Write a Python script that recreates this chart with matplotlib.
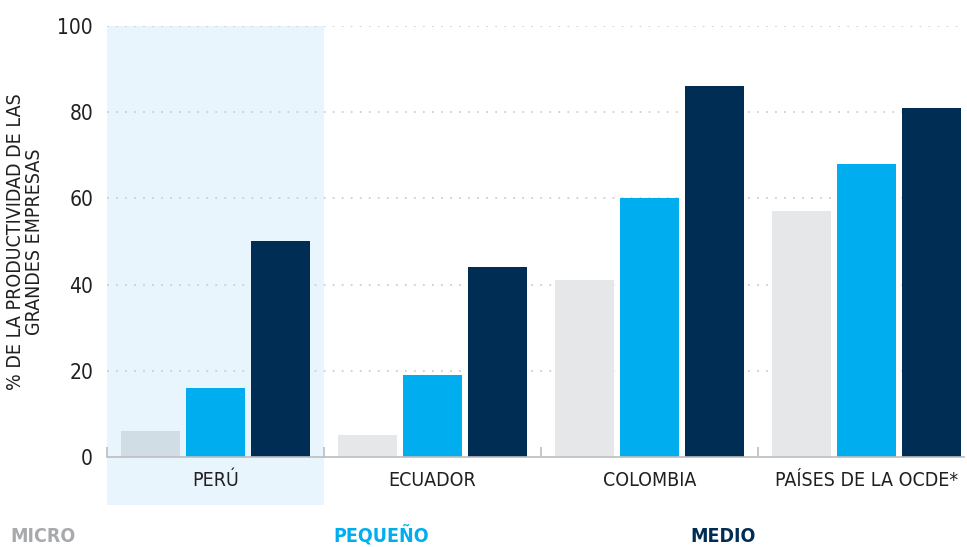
import matplotlib.pyplot as plt
from matplotlib.patches import Rectangle
import numpy as np

plt.rcParams['font.family'] = ['DejaVu Sans']
plt.rcParams['font.stretch'] = 'condensed'

paises = ['PERÚ', 'ECUADOR', 'COLOMBIA', 'PAÍSES DE LA OCDE*']
series = ['MICRO', 'PEQUEÑO', 'MEDIO']
micro = [6, 5, 41, 57]
pequeno = [16, 19, 60, 68]
medio = [50, 44, 86, 81]

GRIS = '#e6e7e8'
GRIS_BANDA = '#d0dde5'
AZUL = '#00aeef'
OSCURO = '#002d54'
BANDA = '#e8f5fc'

fig = plt.figure(figsize=(9.67, 5.47), dpi=100)
ax = fig.add_axes([107 / 967, 90 / 547, (964 - 107) / 967, (457 - 26) / 547])

x = np.arange(len(paises))
w = 0.272
off = 0.3

# banda de Peru
ax.add_patch(Rectangle((-0.5, -11.1), 1.0, 111.1, facecolor=BANDA,
                       edgecolor='none', clip_on=False, zorder=0))

col_micro = [GRIS_BANDA] + [GRIS] * (len(paises) - 1)
ax.bar(x - off, micro, w, color=col_micro, zorder=2)
ax.bar(x, pequeno, w, color=AZUL, zorder=2)
ax.bar(x + off, medio, w, color=OSCURO, zorder=2)

ax.set_xlim(-0.5, 3.45)
ax.set_ylim(0, 100)
ax.set_yticks([0, 20, 40, 60, 80, 100])
ax.yaxis.grid(True, linestyle=(0, (1, 4)), color='#cfcfcf', linewidth=1.3, zorder=1)
ax.set_axisbelow(True)

for s in ['top', 'right', 'left']:
    ax.spines[s].set_visible(False)
ax.spines['bottom'].set_color('#bcbec0')
ax.spines['bottom'].set_linewidth(1.2)

ax.set_xticks(x)
ax.set_xticklabels(paises, fontsize=14, color='#231f20')
ax.tick_params(axis='x', length=0, pad=10)
ax.set_xticks([-0.5, 0.5, 1.5, 2.5], minor=True)
ax.tick_params(axis='x', which='minor', direction='in', length=7, color='#bcbec0', width=1.2)
ax.tick_params(axis='y', length=0, pad=10, labelsize=15, labelcolor='#231f20')

ax.set_ylabel('% DE LA PRODUCTIVIDAD DE LAS\nGRANDES EMPRESAS', fontsize=14,
              color='#231f20', linespacing=1.0, labelpad=10)

# leyenda
fig.text(10 / 967, 1 - 536 / 547, 'MICRO', fontsize=14, fontweight='bold', color='#a7a9ac', va='center')
fig.text(333 / 967, 1 - 536 / 547, 'PEQUEÑO', fontsize=14, fontweight='bold', color=AZUL, va='center')
fig.text(690 / 967, 1 - 536 / 547, 'MEDIO', fontsize=14, fontweight='bold', color=OSCURO, va='center')

fig.savefig('out.png', dpi=100)
